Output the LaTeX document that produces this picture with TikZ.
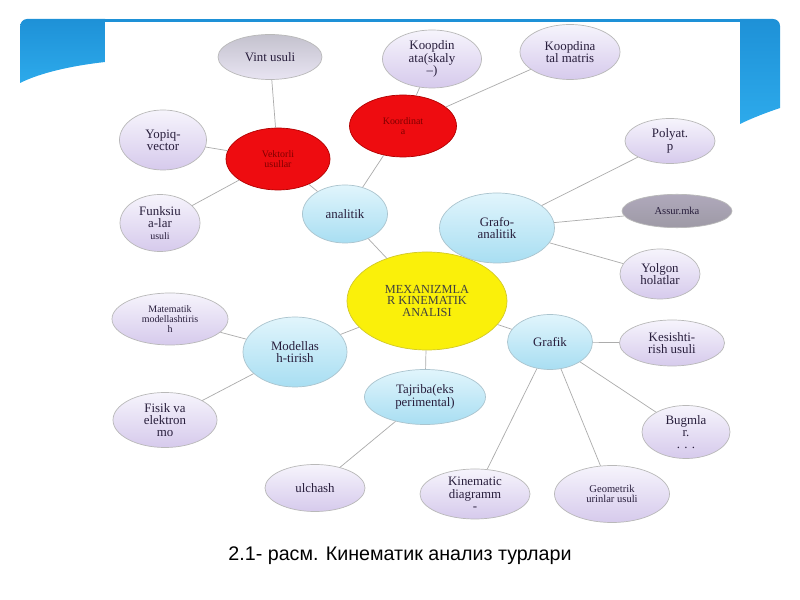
\documentclass[tikz,border=0pt]{standalone}
\usepackage{fontspec}
\setmainfont{Liberation Serif}
\newfontfamily\capfont{Liberation Sans}
\usetikzlibrary{shapes.geometric, shadings}

\definecolor{bandblue}{RGB}{30,145,215}
\definecolor{bandlight}{RGB}{45,170,235}
\definecolor{lavtop}{RGB}{246,244,252}
\definecolor{lavbot}{RGB}{214,202,236}
\definecolor{cyantop}{RGB}{225,245,252}
\definecolor{cyanbot}{RGB}{168,222,242}
\definecolor{greytop}{RGB}{196,194,206}
\definecolor{greybot}{RGB}{232,228,242}
\definecolor{inktext}{RGB}{40,30,60}
\definecolor{hotred}{RGB}{238,12,16}
\definecolor{sunyellow}{RGB}{250,240,10}

\tikzset{
	bubble/.style={ellipse, inner sep=0pt, align=center, text=inktext, draw=gray!55, line width=0.6pt,
		font=\fontsize{11}{10.5}\selectfont},
	leaf/.style={bubble, top color=lavtop, bottom color=lavbot},
	greyleaf/.style={bubble, top color=greytop, bottom color=greybot},
	branch/.style={bubble, top color=cyantop, bottom color=cyanbot, draw=cyan!30!gray!60},
	hub/.style={bubble, fill=hotred, draw=red!70!black, text=red!50!black, font=\fontsize{8.5}{9}\selectfont},
	edge/.style={draw=gray!65, line width=0.6pt}
}

\begin{document}
\begin{tikzpicture}[x=0.03cm, y=-0.03cm]
	\useasboundingbox (0, 0) rectangle (800, 600);

	% slide header
	\shade [top color=bandblue, bottom color=bandlight] (20, 83) -- (20, 27) to [out=90, in=180] (27, 19) -- (105, 19) -- (105, 62) .. controls (70, 66) and (40, 73) .. (20, 83);
	\shade [top color=bandblue, bottom color=bandlight] (740, 19) -- (773, 19) to [out=0, in=90] (780, 26) -- (780, 108) .. controls (768, 112) and (752, 118) .. (740, 124) -- cycle;
	\fill [bandblue] (105, 19) rectangle (740, 22);
	\fill [white] (105, 22) rectangle (740, 526);

	\node [ellipse, fill=sunyellow, draw=yellow!80!black, line width=0.6pt, minimum width=4.8cm, minimum height=2.94cm, inner sep=0pt, align=center, text=black!75, font=\fontsize{10.5}{9.5}\selectfont] (mex) at (427, 301) {MEXANIZMLA\\R KINEMATIK\\ANALISI};

	\node [branch, minimum width=2.55cm, minimum height=1.74cm] (anal) at (345, 214) {analitik};
	\node [branch, minimum width=3.45cm, minimum height=2.1cm] (grafo) at (497, 228) {Grafo-\\analitik};
	\node [branch, minimum width=3.12cm, minimum height=2.1cm] (model) at (295, 352) {Modellas\\h-tirish};
	\node [branch, minimum width=3.63cm, minimum height=1.65cm] (tajr) at (425, 397) {Tajriba(eks\\perimental)};
	\node [branch, minimum width=2.55cm, minimum height=1.65cm] (grafik) at (550, 342) {Grafik};

	\node [hub, minimum width=3.12cm, minimum height=1.86cm] (vekt) at (278, 159) {Vektorli\\usullar};
	\node [hub, minimum width=3.21cm, minimum height=1.86cm] (koord) at (403, 126) {Koordinat\\a};

	\node [greyleaf, minimum width=3.12cm, minimum height=1.35cm] (vint) at (270, 57) {Vint usuli};
	\node [leaf, minimum width=2.97cm, minimum height=1.74cm] (skal) at (432, 59) {Koopdin\\ata(skaly\\--)};
	\node [leaf, minimum width=3.0cm, minimum height=1.65cm] (matr) at (570, 52) {Koopdina\\tal matris};
	\node [leaf, minimum width=2.61cm, minimum height=1.8cm] (yopiq) at (163, 140) {Yopiq-\\vector};
	\node [leaf, minimum width=2.4cm, minimum height=1.71cm] (funk) at (160, 223) {Funksiu\\a-lar\\{\fontsize{8.5}{8.5}\selectfont usuli}};
	\node [leaf, minimum width=2.7cm, minimum height=1.35cm] (polyat) at (670, 141) {Polyat.\\p};
	\node [bubble, top color=gray!45!lavbot, bottom color=gray!65!lavbot, minimum width=3.3cm, minimum height=1.0cm, font=\fontsize{9}{9}\selectfont] (assur) at (677, 211) {Assur.mka};
	\node [leaf, minimum width=2.4cm, minimum height=1.5cm] (yolg) at (660, 274) {Yolgon\\holatlar};
	\node [leaf, minimum width=3.48cm, minimum height=1.56cm, font=\fontsize{8.5}{8.5}\selectfont] (mate) at (170, 319) {Matematik\\modellashtiris\\h};
	\node [leaf, minimum width=3.12cm, minimum height=1.65cm] (fisik) at (165, 420) {Fisik va\\elektron\\mo};
	\node [leaf, minimum width=3.15cm, minimum height=1.38cm] (kesi) at (672, 343) {Kesishti-\\rish usuli};
	\node [leaf, minimum width=2.64cm, minimum height=1.59cm] (bugm) at (686, 432) {Bugmla\\r.\\. . .};
	\node [leaf, minimum width=3.0cm, minimum height=1.41cm] (ulch) at (315, 488) {ulchash};
	\node [leaf, minimum width=3.3cm, minimum height=1.5cm] (kine) at (475, 494) {Kinematic\\diagramm\\-};
	\node [leaf, minimum width=3.45cm, minimum height=1.71cm, font=\fontsize{9}{9}\selectfont] (geom) at (612, 494) {Geometrik\\urinlar usuli};

	\draw [edge] (mex) -- (anal);
	\draw [edge] (mex) -- (grafo);
	\draw [edge] (mex) -- (model);
	\draw [edge] (mex) -- (tajr);
	\draw [edge] (mex) -- (grafik);
	\draw [edge] (anal) -- (vekt);
	\draw [edge] (anal) -- (koord);
	\draw [edge] (vekt) -- (vint);
	\draw [edge] (vekt) -- (yopiq);
	\draw [edge] (vekt) -- (funk);
	\draw [edge] (koord) -- (skal);
	\draw [edge] (koord) -- (matr);
	\draw [edge] (grafo) -- (polyat);
	\draw [edge] (grafo) -- (assur);
	\draw [edge] (grafo) -- (yolg);
	\draw [edge] (model) -- (mate);
	\draw [edge] (model) -- (fisik);
	\draw [edge] (tajr) -- (ulch);
	\draw [edge] (grafik) -- (kesi);
	\draw [edge] (grafik) -- (bugm);
	\draw [edge] (grafik) -- (kine);
	\draw [edge] (grafik) -- (geom);

	\node [font=\capfont\fontsize{16.8}{18}\selectfont, text=black] (cap) at (400, 556) {2.1- расм. Кинематик анализ турлари};
\end{tikzpicture}
\end{document}
